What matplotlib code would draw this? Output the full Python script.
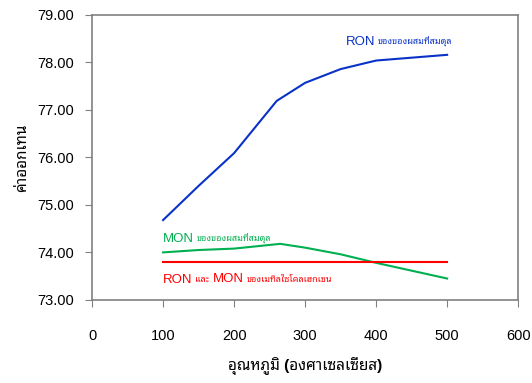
import matplotlib
matplotlib.use("Agg")
import matplotlib.pyplot as plt

plt.rcParams['font.family'] = ['Liberation Sans', 'Noto Sans Thai Looped', 'DejaVu Sans']

# temperatures (degC)
temp_ron = [100, 150, 200, 260, 300, 350, 400, 500]
ron_mix = [74.68, 75.40, 76.09, 77.19, 77.57, 77.86, 78.04, 78.16]

temp_mon = [100, 150, 200, 265, 300, 350, 400, 500]
mon_mix = [74.00, 74.05, 74.08, 74.18, 74.10, 73.96, 73.78, 73.45]

temp_mch = [100, 500]
mch = [73.80, 73.80]

x_ticks = [0, 100, 200, 300, 400, 500, 600]
y_ticks = [73, 74, 75, 76, 77, 78, 79]

blue = '#0a32c8'
green = '#00b050'
red = '#ff0000'
grey = '#808080'

fig = plt.figure(figsize=(5.32, 3.83), dpi=100)
ax = fig.add_axes([0.173, 0.217, 0.801, 0.744])

ax.plot(temp_ron, ron_mix, color=blue, lw=1.5)
ax.plot(temp_mon, mon_mix, color=green, lw=1.5)
ax.plot(temp_mch, mch, color=red, lw=1.5)

ax.set_xlim(0, 600)
ax.set_ylim(73, 79)
ax.set_xticks(x_ticks)
ax.set_yticks(y_ticks)
ax.set_yticklabels([f'{v:.2f}' for v in y_ticks])
ax.tick_params(axis='both', direction='out', length=5, color=grey,
               labelsize=10.5, labelcolor='black')
ax.tick_params(axis='x', pad=16)
ax.tick_params(axis='y', pad=8)
for s in ax.spines.values():
    s.set_color(grey)
    s.set_linewidth(1.2)

ax.set_xlabel('อุณหภูมิ (องศาเซลเซียส)', fontsize=11, fontweight='bold', labelpad=10)
ax.set_ylabel('ค่าออกเทน', fontsize=11, fontweight='bold', labelpad=6)


def label(x, y, parts, color):
    # parts: list of (text, size); chained left to right on one baseline
    t = ax.text(x, y, parts[0][0], fontsize=parts[0][1], color=color,
                va='baseline', ha='left')
    prev = t
    for s, sz in parts[1:]:
        prev = ax.annotate(s, xy=(1, y), xycoords=(prev, 'data'), xytext=(2, 0.5),
                           textcoords='offset points', fontsize=sz,
                           color=color, va='baseline', ha='left')
    return t


label(357, 78.36, [('RON', 9.5), ('ของของผสมที่สมดุล', 6.5)], blue)
label(100, 74.22, [('MON', 9.5), ('ของของผสมที่สมดุล', 6.5)], green)
label(100, 73.36, [('RON', 9.5), ('และ', 6.5), ('MON', 9.5),
                   ('ของเมทิลไซโคลเฮกเซน', 6.5)], red)

fig.savefig('out.png')
